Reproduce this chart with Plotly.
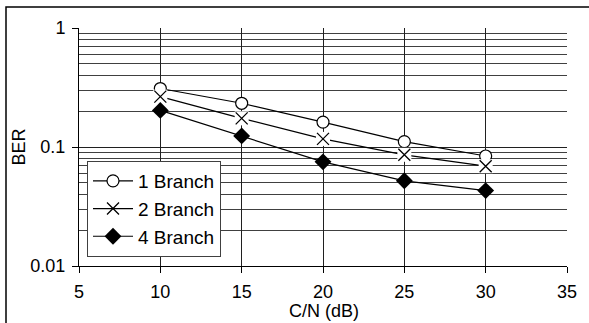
import plotly.graph_objects as go

cn_db = [10, 15, 20, 25, 30]
ber_1branch = [0.31, 0.233, 0.162, 0.111, 0.084]
ber_2branch = [0.265, 0.174, 0.117, 0.086, 0.069]
ber_4branch = [0.203, 0.124, 0.075, 0.052, 0.043]

x_ticks = [5, 10, 15, 20, 25, 30, 35]
y_ticks = [0.01, 0.1, 1]
y_ticktext = ["0.01", "0.1", "1"]

FONT = "Arial, Liberation Sans, sans-serif"
LINE = dict(color="black", width=1.2)

fig = go.Figure()

# 1 Branch: white-filled circles
fig.add_trace(go.Scatter(
    x=cn_db, y=ber_1branch, mode="lines+markers", name="1 Branch",
    line=LINE,
    marker=dict(symbol="circle", size=12, color="white",
                line=dict(color="black", width=1.2)),
))
# 2 Branch: line + X, white patch behind the X
fig.add_trace(go.Scatter(
    x=cn_db, y=ber_2branch, mode="lines+markers", name="2 Branch",
    line=LINE,
    marker=dict(symbol="x-thin", size=12, line=dict(color="black", width=1.3)),
))
fig.add_trace(go.Scatter(
    x=cn_db, y=ber_2branch, mode="markers", showlegend=False, hoverinfo="skip",
    marker=dict(symbol="square", size=14, color="white", line=dict(width=0)),
))
fig.add_trace(go.Scatter(
    x=cn_db, y=ber_2branch, mode="markers", showlegend=False,
    marker=dict(symbol="x-thin", size=12, line=dict(color="black", width=1.3)),
))
# 4 Branch: black diamonds
fig.add_trace(go.Scatter(
    x=cn_db, y=ber_4branch, mode="lines+markers", name="4 Branch",
    line=LINE,
    marker=dict(symbol="diamond", size=13, color="black",
                line=dict(color="black", width=0)),
))

L, R, T, B = 79, 22, 28, 57
W, H = 589, 323
pw, ph = W - L - R, H - T - B

fig.update_layout(
    width=W, height=H,
    margin=dict(l=L, r=R, t=T, b=B, pad=0),
    paper_bgcolor="white", plot_bgcolor="white",
    font=dict(family=FONT, size=18, color="black"),
    showlegend=True,
    legend=dict(
        x=(87 - L) / pw, y=(H - B - 161) / ph, xanchor="left", yanchor="top",
        bgcolor="white", bordercolor="#404040", borderwidth=1,
        font=dict(family=FONT, size=19, color="black"),
        tracegroupgap=0, itemwidth=40,
    ),
    xaxis=dict(
        range=[5, 35], tickvals=x_ticks, ticktext=[str(v) for v in x_ticks],
        showline=True, linecolor="black", linewidth=1,
        ticks="outside", ticklen=6, tickcolor="black", ticklabelstandoff=3,
        showgrid=True, gridcolor="#202020", gridwidth=1,
        zeroline=False,
    ),
    yaxis=dict(
        type="log", range=[-2, 0], tickvals=y_ticks, ticktext=y_ticktext,
        showline=True, linecolor="black", linewidth=1,
        ticks="outside", ticklen=6, tickcolor="black", ticklabelstandoff=3,
        showgrid=True, gridcolor="#202020", gridwidth=1,
        minor=dict(dtick="D1", showgrid=True, gridcolor="#404040", gridwidth=1, ticks=""),
        zeroline=False,
        title=dict(text="BER", standoff=0, font=dict(size=18)),
    ),
    annotations=[dict(
        text="C/N (dB)", xref="paper", yref="paper",
        x=(324 - L) / pw, y=(H - B - 311) / ph, xanchor="center", yanchor="middle",
        showarrow=False, font=dict(family=FONT, size=18, color="black"),
    )],
    shapes=[dict(
        type="rect", xref="paper", yref="paper",
        x0=(6 - L) / pw, x1=(W + 10 - L) / pw,
        y0=(H - B - (H + 10)) / ph, y1=(H - B - 7) / ph,
        line=dict(color="black", width=1.5), fillcolor="rgba(0,0,0,0)", layer="below",
    )],
)

fig.write_html(
    "out.html",
    config={"displayModeBar": False},
    post_script="document.body.style.margin='0';document.body.style.overflow='hidden';",
)
